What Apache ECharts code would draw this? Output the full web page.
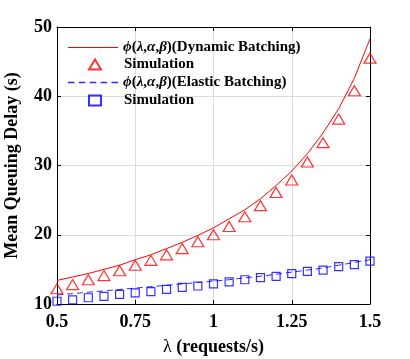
<!DOCTYPE html>
<html>
<head>
<meta charset="utf-8">
<script src="https://cdn.jsdelivr.net/npm/echarts@6.0.0/dist/echarts.min.js"></script>
<style>
html, body { margin: 0; padding: 0; background: #fff; }
#main { width: 410px; height: 359px; }
</style>
</head>
<body>
<div id="main"></div>
<script>
// arrival rate (requests/s)
let lambdas = [0.5, 0.55, 0.6, 0.65, 0.7, 0.75, 0.8, 0.85, 0.9, 0.95, 1.0,
	1.05, 1.1, 1.15, 1.2, 1.25, 1.3, 1.35, 1.4, 1.45, 1.5];
// analysis, dynamic batching
let dynTheory = [13.4, 13.9, 14.4, 15.0, 15.6, 16.4, 17.1, 18.0, 18.9, 19.9, 21.0,
	22.3, 23.6, 25.2, 27.1, 29.2, 31.7, 34.7, 38.2, 42.6, 48.3];
// simulation, dynamic batching
let dynSim = [12.2, 12.8, 13.5, 14.1, 14.8, 15.6, 16.3, 17.1, 18.0, 19.0, 20.0,
	21.2, 22.6, 24.2, 26.1, 27.9, 30.5, 33.3, 36.7, 40.8, 45.5];
// analysis, elastic batching
let elaTheory = [11.3, 11.5, 11.7, 11.9, 12.1, 12.3, 12.5, 12.7, 12.9, 13.1, 13.3,
	13.5, 13.8, 14.0, 14.3, 14.6, 14.9, 15.2, 15.6, 16.0, 16.4];
// simulation, elastic batching
let elaSim = [10.4, 10.6, 10.9, 11.1, 11.4, 11.6, 11.8, 12.1, 12.4, 12.6, 12.9,
	13.2, 13.5, 13.8, 14.0, 14.4, 14.7, 14.9, 15.4, 15.7, 16.2];

let xTicks = [0.5, 0.75, 1, 1.25, 1.5];
let yTicks = [10, 20, 30, 40, 50];

let names = ['dyn-theory', 'Simulation', 'ela-theory', 'ela-sim'];
let labels = [
	'{g|\u03d5}({g|\u03bb},{g|\u03b1},{g|\u03b2})(Dynamic Batching)',
	'Simulation',
	'{g|\u03d5}({g|\u03bb},{g|\u03b1},{g|\u03b2})(Elastic Batching)',
	'Simulation'
];

function pairs(ys){
	return lambdas.map(function(x, i){ return [x, ys[i]]; });
}

const font = 'Liberation Serif';
const solidIcon = 'path://M0,0h50v1.2h-50z';
const dashIcon = 'path://M0,0h6v1.2h-6zM10,0h6v1.2h-6zM20,0h6v1.2h-6zM30,0h6v1.2h-6zM40,0h6v1.2h-6z';

function legendAt(i, centerY, icon){
	let isLine = !!icon;
	let item = { name: names[i] };
	if (icon) item.icon = icon;
	return {
		data: [item],
		left: isLine ? 68 : 88,
		top: centerY - 7,
		itemWidth: isLine ? 50 : 12,
		itemHeight: 10,
		selectedMode: false,
		padding: 0,
		formatter: function(){ return labels[i]; },
		textStyle: {
			fontFamily: font, fontWeight: 'bold', fontSize: 15, color: '#000',
			padding: isLine ? 0 : [0, 0, 0, 18],
			rich: { g: { fontFamily: font, fontWeight: 'bold', fontStyle: 'italic', fontSize: 15, color: '#000' } }
		}
	};
}

let myChart = echarts.init(document.getElementById('main'));
let axisLineStyle = { show: true, lineStyle: { color: '#000', width: 1 } };
let option = {
	backgroundColor: '#fff',
	animation: false,
	grid: { left: 57, right: 40, top: 27, bottom: 55, outerBoundsMode: 'none' },
	legend: [
		legendAt(0, 47, solidIcon),
		legendAt(1, 64),
		legendAt(2, 82, dashIcon),
		legendAt(3, 100)
	],
	xAxis: [{
		type: 'value',
		min: 0.5, max: 1.5, interval: 0.25,
		name: '{l|\u03bb} (requests/s)',
		nameLocation: 'middle',
		nameGap: 34,
		nameTextStyle: { fontFamily: font, fontWeight: 'bold', fontSize: 18, color: '#000',
			rich: { l: { fontFamily: font, fontWeight: 'normal', fontSize: 18, color: '#000' } } },
		axisLine: axisLineStyle,
		axisTick: { show: true, inside: true, length: 4, lineStyle: { color: '#000' } },
		axisLabel: { fontFamily: font, fontWeight: 'bold', fontSize: 18, color: '#000', margin: 9,
			formatter: function(v){ return xTicks.indexOf(v) >= 0 ? String(v) : ''; } },
		splitLine: { show: true, lineStyle: { color: '#dcdcdc', width: 1 } }
	}, {
		type: 'value', position: 'top',
		min: 0.5, max: 1.5, interval: 0.25,
		axisLine: axisLineStyle,
		axisTick: { show: true, inside: true, length: 4, lineStyle: { color: '#000' } },
		axisLabel: { show: false },
		splitLine: { show: false }
	}],
	yAxis: [{
		type: 'value',
		min: 10, max: 50, interval: 10,
		name: 'Mean Queuing Delay (s)',
		nameLocation: 'middle',
		nameGap: 36,
		nameTextStyle: { fontFamily: font, fontWeight: 'bold', fontSize: 18, color: '#000' },
		axisLine: axisLineStyle,
		axisTick: { show: true, inside: true, length: 4, lineStyle: { color: '#000' } },
		axisLabel: { fontFamily: font, fontWeight: 'bold', fontSize: 18, color: '#000', margin: 5,
			formatter: function(v){ return yTicks.indexOf(v) >= 0 ? String(v) : ''; } },
		splitLine: { show: true, lineStyle: { color: '#dcdcdc', width: 1 } }
	}, {
		type: 'value', position: 'right',
		min: 10, max: 50, interval: 10,
		axisLine: axisLineStyle,
		axisTick: { show: true, inside: true, length: 4, lineStyle: { color: '#000' } },
		axisLabel: { show: false },
		splitLine: { show: false }
	}],
	series: [{
		name: names[0],
		type: 'line',
		data: pairs(dynTheory),
		symbol: 'none',
		lineStyle: { color: '#ff0000', width: 1 },
		itemStyle: { color: '#ff0000' },
		z: 3
	}, {
		name: names[1],
		type: 'scatter',
		data: pairs(dynSim),
		symbol: 'triangle',
		symbolSize: [12, 10],
		itemStyle: { color: 'rgba(0,0,0,0)', borderColor: '#ff0000', borderWidth: 1.2 },
		z: 4
	}, {
		name: names[2],
		type: 'line',
		data: pairs(elaTheory),
		symbol: 'none',
		lineStyle: { color: '#2a2aff', width: 1, type: [6, 4] },
		itemStyle: { color: '#2a2aff' },
		z: 3
	}, {
		name: names[3],
		type: 'scatter',
		data: pairs(elaSim),
		symbol: 'rect',
		symbolSize: 8,
		itemStyle: { color: 'rgba(0,0,0,0)', borderColor: '#0000ff', borderWidth: 1.2 },
		z: 4
	}]
};
myChart.setOption(option);
</script>
</body>
</html>
